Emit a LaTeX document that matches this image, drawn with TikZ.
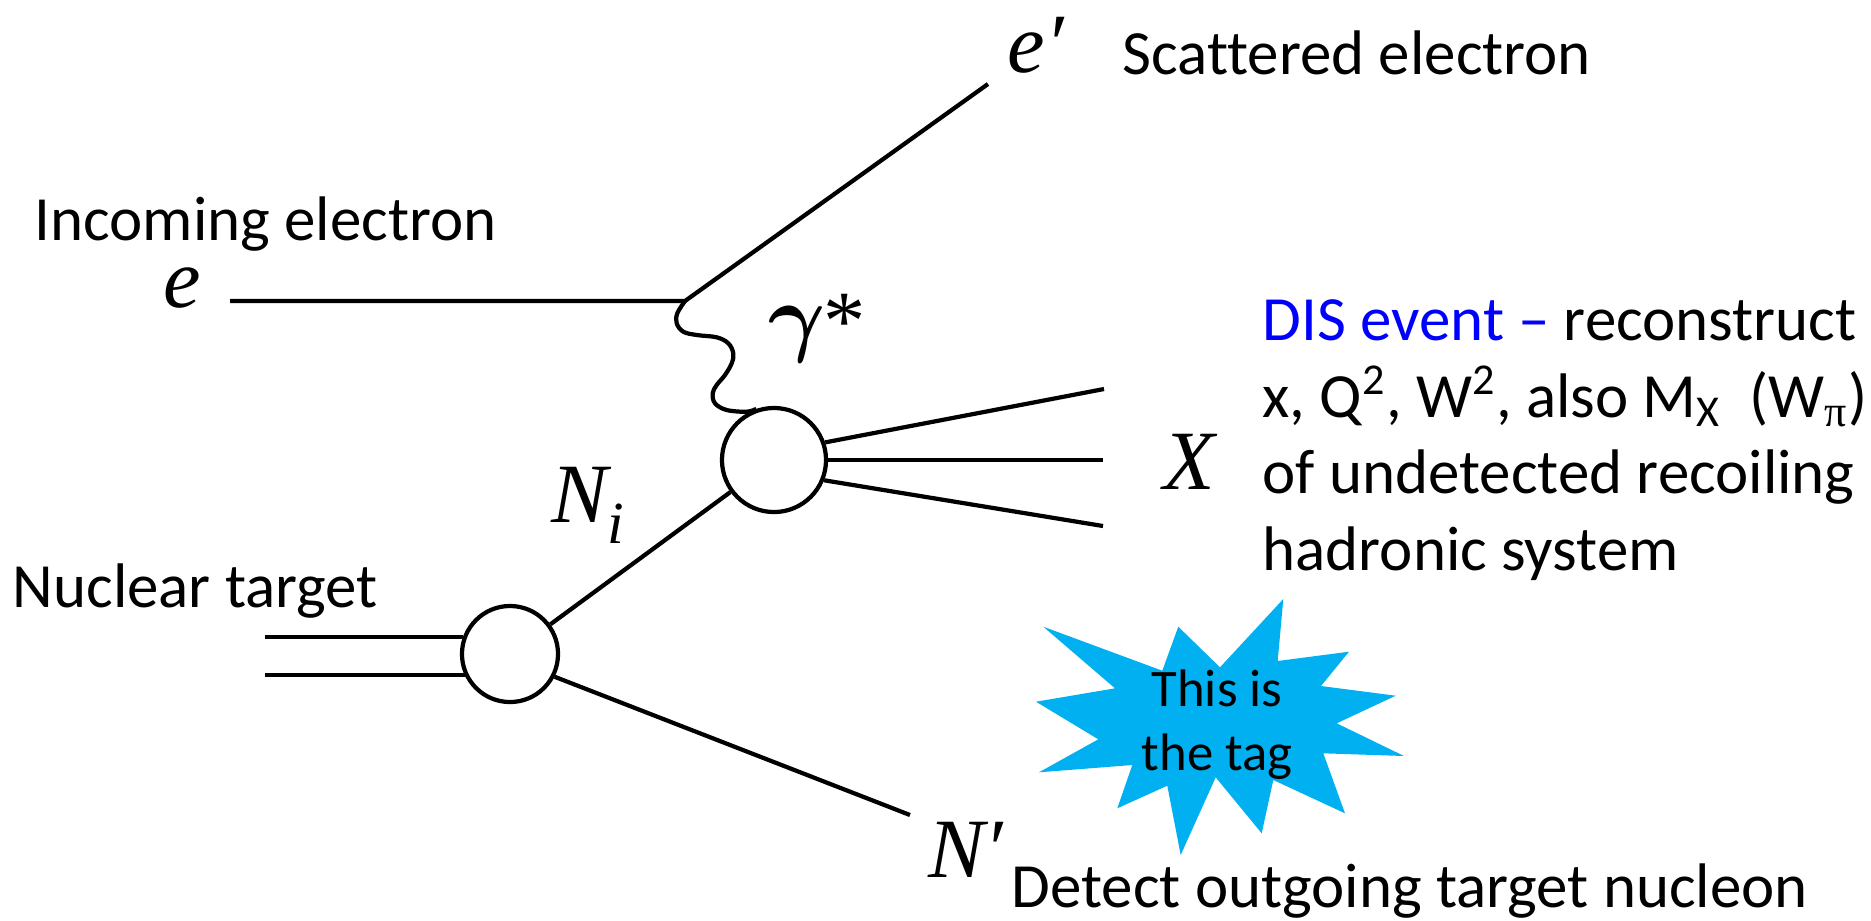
\documentclass[tikz,border=0pt]{standalone}
\usepackage{fontspec}
\setmainfont{Carlito}[Ligatures=NoCommon]
\newfontfamily\tms{Liberation Serif}[ItalicFont={Liberation Serif Italic}]
\definecolor{tagblue}{RGB}{0,176,240}
\definecolor{disblue}{RGB}{0,0,255}
\begin{document}
\begin{tikzpicture}[x=0.01cm,y=-0.01cm,
  line/.style={line width=1.2pt, black},
  blob/.style={circle, draw, line width=1.2pt, inner sep=0pt, fill=white},
  lbl/.style={font=\fontsize{17.9pt}{21.8pt}\selectfont, inner sep=0pt, anchor=base west},
  sym/.style={font=\fontsize{24pt}{28pt}\selectfont\tms\itshape, inner sep=0pt, anchor=base west},
  tagtxt/.style={font=\fontsize{15pt}{18pt}\selectfont, inner sep=0pt, anchor=base}]
\useasboundingbox (0,0) rectangle (1871,920);

% starburst (the tag)
\fill[tagblue] (1043.3,626.7) -- (1115,688.3) -- (1036,701.7) -- (1098.3,739.3) -- (1039,772.3)
  -- (1132.3,765) -- (1117.3,808.3) -- (1167.3,785.7) -- (1180.7,855) -- (1215.7,777.3)
  -- (1261.7,833.3) -- (1273.3,780) -- (1345,813.3) -- (1323.3,753.3) -- (1404,756)
  -- (1336.7,723.3) -- (1395.7,695.7) -- (1321,686) -- (1349,651.7) -- (1277.7,661)
  -- (1283.3,599) -- (1220,667.3) -- (1178.3,626.7) -- (1162.3,670.7) -- cycle;
\node[tagtxt] (tag1) at (1217,706) {This is};
\node[tagtxt] (tag2) at (1217,770) {the tag};

% blobs
\node[blob, minimum size=1.04cm] (ub) at (774,460) {};
\node[blob, minimum size=0.96cm] (lb) at (510,654) {};

% coordinates
\coordinate (v) at (685,301);
\coordinate (ein) at (230,301);
\coordinate (eout) at (988,84);
\coordinate (x1) at (1104,389);
\coordinate (x2) at (1103,460);
\coordinate (x3) at (1103,526);
\coordinate (t1) at (265,637);
\coordinate (t2) at (265,675);
\coordinate (np) at (910,815);

% lines
\draw[line] (ein) -- (v) -- (eout);
\draw[line] plot[smooth, tension=0.6] coordinates {(v) (677.3,313.3) (676.7,323.3) (683.3,331.7) (696.7,335) (716.7,337.3) (728.3,343.3) (733.3,353.3) (731.7,363.3) (725,375) (716.7,385) (712.7,393.3) (715,403.3) (726.7,410) (746.7,411.7) (ub.109)};
\draw[line] (ub.19) -- (x1);
\draw[line] (ub.0) -- (x2);
\draw[line] (ub.-22) -- (x3);
\draw[line] (t1) -- (t1 -| lb.160);
\draw[line] (t2) -- (t2 -| lb.206);
\draw[line] (lb) -- (ub);
\draw[line] (lb.-27) -- (np);

% symbols
\node[sym] (le) at (163,307) {e};
\node[sym] (lep) at (1007,72) {e′};
\node[sym] (lg) at (768,345) {{\boldmath$\gamma$}\kern-0.08em\raisebox{-0.05em}{*}};
\node[sym] (lni) at (551,522) {N\raisebox{-0.25em}{\fontsize{17pt}{17pt}\selectfont i}};
\node[sym] (lx) at (1163,489) {X};
\node[sym] (lnp) at (928,877) {N′};

% texts
\node[lbl] (tin) at (34,240) {Incoming electron};
\node[lbl] (tsc) at (1122,74) {Scattered electron};
\node[lbl] (tnu) at (12,607) {Nuclear target};
\node[lbl] (tdet) at (1011,907) {Detect outgoing target nucleon};
\node[lbl] (d1) at (1262,340) {\textcolor{disblue}{DIS event –} reconstruct};
\node[lbl] (d2) at (1262,417) {x, Q\textsuperscript{2}, W\textsuperscript{2}, also M\textsubscript{X}\ \ (W\textsubscript{\tms π})};
\node[lbl] (d3) at (1262,493) {of undetected recoiling};
\node[lbl] (d4) at (1262,570) {hadronic system};
\end{tikzpicture}
\end{document}
